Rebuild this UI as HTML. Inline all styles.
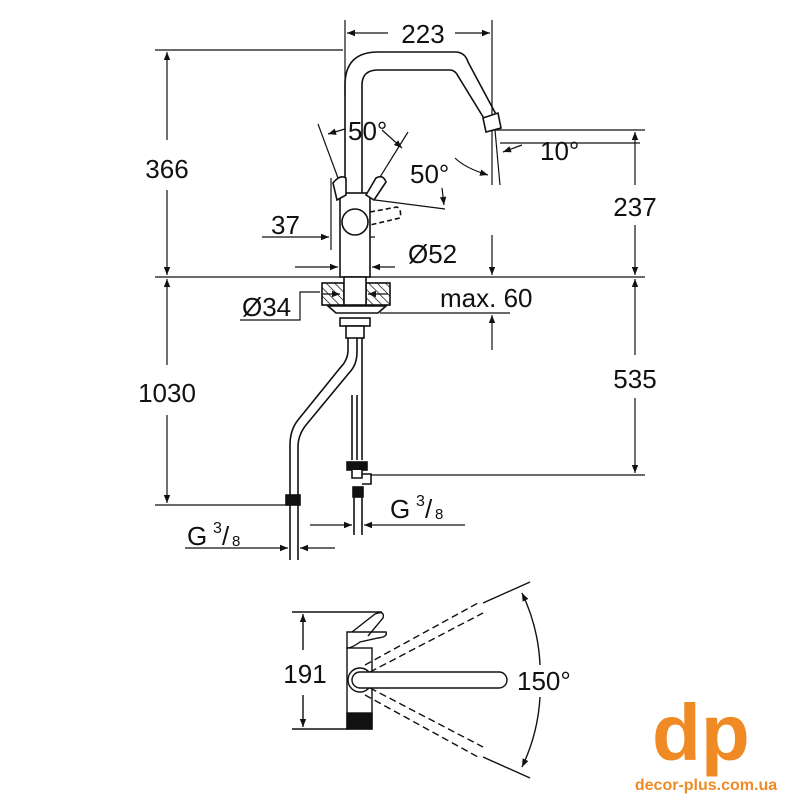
<!DOCTYPE html>
<html><head><meta charset="utf-8"><style>
html,body{margin:0;padding:0;background:#fff}
svg{display:block}
text{font-family:"Liberation Sans",sans-serif;fill:#111}
</style></head><body>
<svg width="800" height="800" viewBox="0 0 800 800" xmlns="http://www.w3.org/2000/svg">
<defs>
<marker id="a" viewBox="0 0 10 10" refX="10" refY="5" markerWidth="16" markerHeight="8" orient="auto-start-reverse" markerUnits="userSpaceOnUse"><path d="M0,1 L10,5 L0,9 z" fill="#111"/></marker>
<pattern id="h" width="6" height="6" patternUnits="userSpaceOnUse" patternTransform="rotate(-45)"><line x1="0" y1="0" x2="0" y2="6" stroke="#111" stroke-width="1.5"/></pattern>
</defs>
<g stroke="#111" stroke-width="1.2" fill="none">
<line x1="155" y1="277" x2="645" y2="277"/>
<line x1="155" y1="50" x2="343" y2="50"/>
<line x1="167" y1="52" x2="167" y2="140" marker-start="url(#a)"/>
<line x1="167" y1="190" x2="167" y2="275" marker-end="url(#a)"/>
<line x1="167" y1="279" x2="167" y2="365" marker-start="url(#a)"/>
<line x1="167" y1="415" x2="167" y2="503" marker-end="url(#a)"/>
<line x1="155" y1="505" x2="290" y2="505"/>
<line x1="345" y1="20" x2="345" y2="95"/>
<line x1="492" y1="20" x2="492" y2="128"/>
<line x1="347" y1="33" x2="388" y2="33" marker-start="url(#a)"/>
<line x1="455" y1="33" x2="490" y2="33" marker-end="url(#a)"/>
<line x1="495" y1="130" x2="645" y2="130"/>
<line x1="635" y1="132" x2="635" y2="185" marker-start="url(#a)"/>
<line x1="635" y1="225" x2="635" y2="275" marker-end="url(#a)"/>
<line x1="635" y1="279" x2="635" y2="355" marker-start="url(#a)"/>
<line x1="635" y1="398" x2="635" y2="473" marker-end="url(#a)"/>
<line x1="365" y1="475" x2="645" y2="475"/>
<line x1="492" y1="235" x2="492" y2="275" marker-end="url(#a)"/>
<line x1="492" y1="350" x2="492" y2="315" marker-end="url(#a)"/>
<line x1="380" y1="313" x2="510" y2="313"/>
<line x1="500" y1="143" x2="640" y2="143"/>
<line x1="522" y1="145" x2="503" y2="152" marker-end="url(#a)"/>
<path d="M455,158 Q465,168 488,175" marker-end="url(#a)"/>
<line x1="492" y1="130" x2="492" y2="185"/>
<line x1="495" y1="130" x2="500" y2="185"/>
<line x1="295" y1="267" x2="338" y2="267" marker-end="url(#a)"/>
<line x1="395" y1="267" x2="372" y2="267" marker-end="url(#a)"/>
<line x1="262" y1="237" x2="329" y2="237" marker-end="url(#a)"/>
<line x1="375" y1="237" x2="357" y2="237" marker-end="url(#a)"/>
<line x1="331" y1="178" x2="331" y2="250"/>
<polyline points="240,320 300,320 300,292 320,292"/>
<line x1="322" y1="294" x2="340" y2="294" marker-end="url(#a)"/>
<line x1="388" y1="294" x2="368" y2="294" marker-end="url(#a)"/>
<line x1="318" y1="124" x2="338" y2="178"/>
<line x1="408" y1="132" x2="372" y2="190"/>
<line x1="328" y1="134" x2="345" y2="129" marker-start="url(#a)"/>
<line x1="382" y1="130" x2="402" y2="148" marker-end="url(#a)"/>
<line x1="375" y1="200" x2="445" y2="209"/>
<line x1="442" y1="188" x2="444" y2="205" marker-end="url(#a)"/>
</g>
<g stroke="#111" stroke-width="1.6" fill="none">
<path d="M345,193 V85 Q345,52 378,52 H455 Q465,52 468,62 L498,118"/>
<path d="M362,193 V85 Q362,70 378,70 H450 Q455,70 458,76 L485,120"/>
<polygon points="483,118 498,113 501,128 486,132" fill="#fff"/>
<rect x="340" y="193" width="30" height="84" fill="#fff"/>
<circle cx="355" cy="222" r="13" fill="#fff"/>
<path d="M333,183 Q340,174 346,178 L346,195 L337,200 Z" fill="#fff"/>
<path d="M366,195 L376,178 Q383,174 386,182 L374,200 Z" fill="#fff"/>
<path d="M370,212 L397,207 Q402,210 400,218 L370,225" stroke-dasharray="5,3"/>
<rect x="322" y="283" width="22" height="22" fill="url(#h)"/>
<rect x="366" y="283" width="24" height="22" fill="url(#h)"/>
<rect x="344" y="277" width="22" height="28" fill="#fff"/>
<path d="M328,306 H386 L378,313 H336 Z" fill="#fff"/>
<rect x="340" y="318" width="30" height="8" fill="#fff"/>
<rect x="346" y="326" width="18" height="12" fill="#fff"/>
<path d="M348,338 V350 Q348,360 340,368 L298,420 Q290,430 290,445 V496"/>
<path d="M357,338 V352 Q357,365 349,373 L306,425 Q298,435 298,447 V496"/>
<line x1="352" y1="395" x2="352" y2="460"/><line x1="357" y1="395" x2="357" y2="460"/>
<line x1="362" y1="338" x2="362" y2="460"/>
<rect x="286" y="495" width="14" height="10" fill="#111"/>
<rect x="347" y="462" width="20" height="8" fill="#111"/>
<path d="M352,470 V478 L362,478 V470 M362,474 H371 V484 H362" fill="#fff"/>
<rect x="353" y="487" width="10" height="10" fill="#111"/>
<line x1="290" y1="505" x2="290" y2="560"/><line x1="298" y1="505" x2="298" y2="560"/>
<line x1="354" y1="497" x2="354" y2="535"/><line x1="362" y1="497" x2="362" y2="535"/>
</g>
<g stroke="#111" stroke-width="1.2" fill="none">
<line x1="185" y1="548" x2="288" y2="548" marker-end="url(#a)"/>
<line x1="335" y1="548" x2="300" y2="548" marker-end="url(#a)"/>
<line x1="310" y1="525" x2="352" y2="525" marker-end="url(#a)"/>
<line x1="465" y1="525" x2="364" y2="525" marker-end="url(#a)"/>
</g>
<g font-size="26">
<rect x="398" y="18" width="52" height="28" fill="#fff"/>
<text x="423" y="43" text-anchor="middle">223</text>
<text x="167" y="178" text-anchor="middle">366</text>
<text x="167" y="402" text-anchor="middle">1030</text>
<text x="635" y="216" text-anchor="middle">237</text>
<text x="635" y="388" text-anchor="middle">535</text>
<text x="440" y="307">max. 60</text>
<text x="408" y="263">Ø52</text>
<text x="242" y="316">Ø34</text>
<text x="271" y="234">37</text>
<text x="348" y="140">50°</text>
<text x="410" y="183">50°</text>
<text x="540" y="160">10°</text>
<text x="187" y="545">G</text><text x="213" y="533" font-size="16">3</text><text x="222" y="545">/</text><text x="232" y="546" font-size="15">8</text>
<text x="390" y="518">G</text><text x="416" y="506" font-size="16">3</text><text x="425" y="518">/</text><text x="435" y="519" font-size="15">8</text>
<text x="305" y="683" text-anchor="middle">191</text>
<text x="517" y="690">150°</text>
</g>
<g stroke="#111" stroke-width="1.4" fill="none">
<line x1="292" y1="612" x2="382" y2="612"/>
<line x1="292" y1="729" x2="348" y2="729"/>
<line x1="303" y1="614" x2="303" y2="650" marker-start="url(#a)"/>
<line x1="303" y1="695" x2="303" y2="727" marker-end="url(#a)"/>
<rect x="347" y="648" width="25" height="81" fill="#fff"/>
<rect x="347" y="713" width="25" height="16" fill="#111"/>
<path d="M347,642 V632 H386 Q388,637 378,638 L360,642 Q352,648 347,648 Z" fill="#fff"/>
<path d="M352,632 L375,614 Q385,610 383,618 L368,636" />
<circle cx="360" cy="680" r="12" fill="#fff"/>
<rect x="352" y="672" width="155" height="16" rx="8" fill="#fff"/>
<g stroke-dasharray="7,4">
<line x1="365" y1="665" x2="478" y2="603"/><line x1="370" y1="672" x2="483" y2="613"/>
<line x1="365" y1="695" x2="478" y2="757"/><line x1="370" y1="688" x2="483" y2="747"/>
</g>
<line x1="483" y1="603" x2="530" y2="582"/>
<line x1="483" y1="757" x2="530" y2="778"/>
<path d="M522,593 A185,185 0 0 1 540,665" marker-start="url(#a)"/>
<path d="M540,697 A185,185 0 0 1 522,767" marker-end="url(#a)"/>
</g>
<text x="652" y="760" font-size="80" font-weight="bold" style="fill:#F08A24">dp</text>
<text x="706" y="790" font-size="16" font-weight="bold" text-anchor="middle" style="fill:#F08A24">decor-plus.com.ua</text>
</svg>
</body></html>
